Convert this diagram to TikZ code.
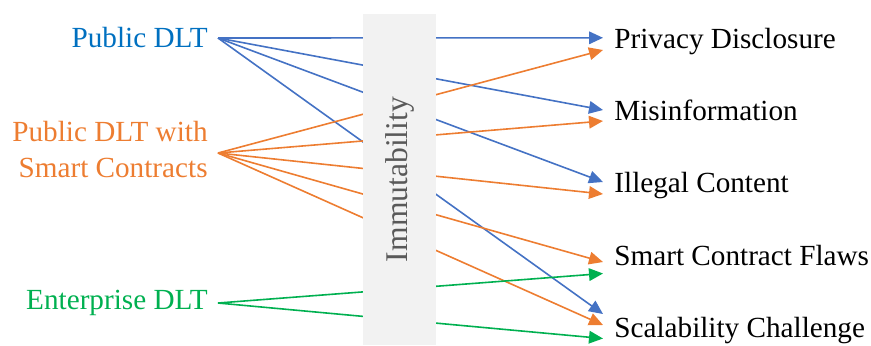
\documentclass[tikz,border=0pt]{standalone}
\usepackage{fontspec}
\setmainfont{Liberation Serif}
\usepackage{tikz}
\usetikzlibrary{arrows.meta,positioning}
\definecolor{pubblue}{HTML}{0070C0}
\definecolor{publine}{HTML}{4472C4}
\definecolor{scorange}{HTML}{ED7D31}
\definecolor{entgreen}{HTML}{00B050}
\definecolor{immgray}{HTML}{F2F2F2}
\definecolor{immtext}{HTML}{595959}

\begin{document}
\begin{tikzpicture}[x=0.5pt, y=-0.5pt,
  every node/.style={font=\fontsize{14.6}{18}\selectfont},
  srclabel/.style={anchor=east, align=right, inner xsep=5pt, inner ysep=0pt},
  risklabel/.style={anchor=west, inner xsep=5.5pt, inner ysep=0pt, text height=10pt, text depth=3pt},
  link/.style={-{Triangle[length=7pt,width=6.3pt]}, line width=0.8pt},
  immbox/.style={fill=immgray, rotate=90, minimum width=165.5pt, minimum height=36.5pt, inner sep=0pt, text=immtext, font=\fontsize{15.8}{18}\selectfont}]
\useasboundingbox (0,0) rectangle (871,345);
% sources
\node[srclabel, text=pubblue] (pub) at (218,38) {Public DLT};
\node[srclabel, text=scorange] (pubsc) at (218,150) {Public DLT with\\Smart Contracts};
\node[srclabel, text=entgreen] (ent) at (218,303) {Enterprise DLT};
% risks
\node[risklabel] (priv) at (603,41.3) {Privacy Disclosure};
\node[risklabel] (misinf) at (603,113.5) {Misinformation};
\node[risklabel] (illegal) at (603,185.8) {Illegal Content};
\node[risklabel] (scflaws) at (603,258) {Smart Contract Flaws};
\node[risklabel] (scal) at (603,330.3) {Scalability Challenge};
% links
\draw[link, publine] (pub.east) -- ([yshift=1.75pt]priv.west);
\draw[link, publine] (pub.east) -- ([yshift=1.75pt]misinf.west);
\draw[link, publine] (pub.east) -- ([yshift=1.9pt]illegal.west);
\draw[link, publine] (pub.east) -- ([yshift=8.15pt]scal.west);
\draw[link, scorange] ([yshift=-1.5pt]pubsc.east) -- ([yshift=-4.35pt]priv.west);
\draw[link, scorange] ([yshift=-1.5pt]pubsc.east) -- ([yshift=-3.75pt]misinf.west);
\draw[link, scorange] ([yshift=-1.5pt]pubsc.east) -- ([yshift=-4.1pt]illegal.west);
\draw[link, scorange] ([yshift=-1.5pt]pubsc.east) -- ([yshift=-2pt]scflaws.west);
\draw[link, scorange] ([yshift=-1.5pt]pubsc.east) -- ([yshift=2.65pt]scal.west);
\draw[link, entgreen] (ent.east) -- ([yshift=-7.75pt]scflaws.west);
\draw[link, entgreen] (ent.east) -- ([yshift=-4.1pt]scal.west);
% immutability box over the links
\node[immbox] (immut) at (399.5,179.5) {Immutability};
\end{tikzpicture}
\end{document}
